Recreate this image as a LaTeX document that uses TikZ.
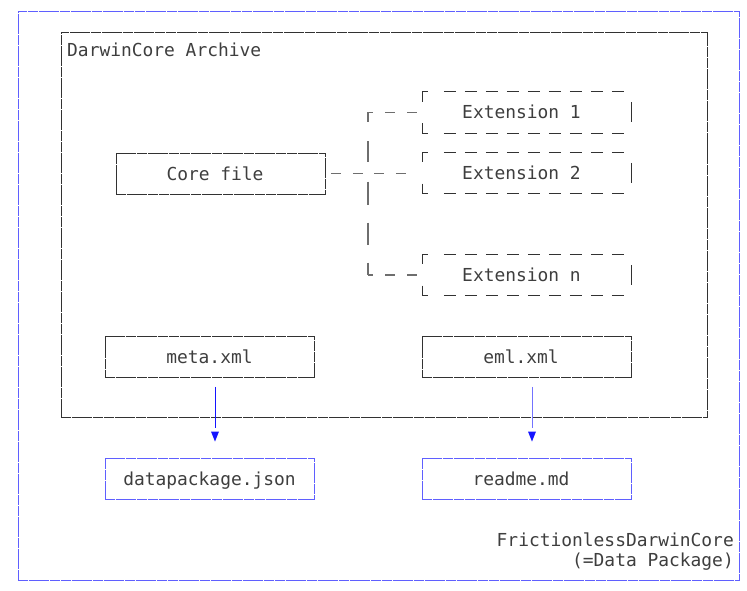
\documentclass[tikz,border=0pt]{standalone}
\usepackage{fontspec}
\newfontfamily\dmono{DejaVu Sans Mono}
\usetikzlibrary{calc}
\definecolor{txt}{RGB}{62,62,62}
\definecolor{bord}{RGB}{50,50,50}
\definecolor{bl}{RGB}{95,95,255}
\definecolor{cgray}{RGB}{110,110,110}
\definecolor{arrblue}{RGB}{20,20,255}
\newcommand{\lft}[1]{#1\hspace*{11pt}}
\tikzset{
  every node/.style={font=\dmono\fontsize{17.9pt}{20pt}\selectfont, text=txt, inner sep=0pt},
  boxed/.style={minimum width=209pt, minimum height=41pt, text height=13pt, text depth=0pt},
  blackbox/.style={boxed, draw=bord, line width=0.9pt, dash pattern=on 10pt off 0.7pt},
  bluebox/.style={boxed, draw=bl, line width=0.9pt, dash pattern=on 10pt off 0.7pt},
  extbox/.style={boxed, minimum width=208pt},
  extline/.style={draw=bord, line width=1pt},
  cline/.style={draw=cgray, line width=1.1pt},
  arrline/.style={draw=arrblue, line width=0.85pt},
}
\begin{document}
\begin{tikzpicture}[x=1pt,y=-1pt]
\useasboundingbox (0,0) rectangle (747,591);
% outer package box
\node[draw=bl, line width=1pt, dash pattern=on 10pt off 0.7pt, minimum width=721pt, minimum height=568pt] (pkg) at (378.5,296) {};
% archive box
\node[draw=bord, line width=0.9pt, dash pattern=on 10pt off 0.7pt, minimum width=646pt, minimum height=385pt] (dwca) at (384,224.5) {};
\node[anchor=west, text height=13pt, text depth=0pt] (dwcatitle) at (67,50) {DarwinCore Archive};
% core and extensions
\node[blackbox] (core) at (220.5,173.5) {\lft{Core file}};
\node[extbox] (ext1) at (527,112.5) {\lft{Extension 1}};
\node[extbox] (ext2) at (527,173) {\lft{Extension 2}};
\node[extbox] (extn) at (527,275) {\lft{Extension n}};
\foreach \e in {ext1,ext2,extn}{
  \draw[extline] ($(\e.north west)+(5,0)$) -- (\e.north west) -- ++(0,10);
  \draw[extline] ($(\e.south west)+(0,-10)$) -- (\e.south west) -- ++(5,0);
  \draw[extline, dash pattern=on 12pt off 9pt] ($(\e.north west)+(21,0)$) -- ($(\e.north east)+(-7,0)$);
  \draw[extline, dash pattern=on 12pt off 9pt] ($(\e.south west)+(21,0)$) -- ($(\e.south east)+(-7,0)$);
  \draw[extline] ($(\e.east)+(0,-10)$) -- ($(\e.east)+(0,10)$);
}
% connectors
\coordinate (bt) at (368,0 |- ext1.west);
\coordinate (bb) at (368,0 |- extn.west);
\draw[cline, dash pattern=on 9.5pt off 19.5pt on 21pt off 19pt on 23pt off 18pt on 22pt off 18pt on 20pt] (bt) -- (bb);
\draw[cline, dash pattern=on 5pt off 12pt on 10pt off 12pt on 10pt off 30pt] (bt) -- (ext1.west);
\draw[cline, dash pattern=on 5pt off 12pt on 10pt off 12pt on 10pt off 30pt] (bb) -- (extn.west);
\draw[cline, dash pattern=on 10pt off 11.5pt, dash phase=15.5pt] (core.east) -- ($(core.east -| ext2.west)+(-13,0)$);
% metadata boxes
\node[blackbox] (meta) at (209.5,357) {meta.xml};
\node[blackbox] (eml) at (526.5,357) {\lft{eml.xml}};
\node[bluebox] (dp) at (209.5,478.5) {datapackage.json};
\node[bluebox] (readme) at (526.5,478.5) {\lft{readme.md}};
% arrows
\draw[arrline] ($(meta.south)+(5.5,9)$) -- ($(dp.north)+(5.5,-30)$);
\fill[arrblue] ($(dp.north)+(1.5,-26)$) -- ($(dp.north)+(9.5,-26)$) -- ($(dp.north)+(5.5,-16)$) -- cycle;
\draw[arrline, draw=blue!55, line width=0.7pt] ($(eml.south)+(5.5,9)$) -- ($(readme.north)+(5.5,-30)$);
\fill[arrblue] ($(readme.north)+(1.5,-26)$) -- ($(readme.north)+(9.5,-26)$) -- ($(readme.north)+(5.5,-16)$) -- cycle;
% package label
\node[anchor=base east] (fdc1) at (734,546.5) {FrictionlessDarwinCore};
\node[anchor=base east] (fdc2) at (734,566.5) {(=Data Package)};
\end{tikzpicture}
\end{document}
